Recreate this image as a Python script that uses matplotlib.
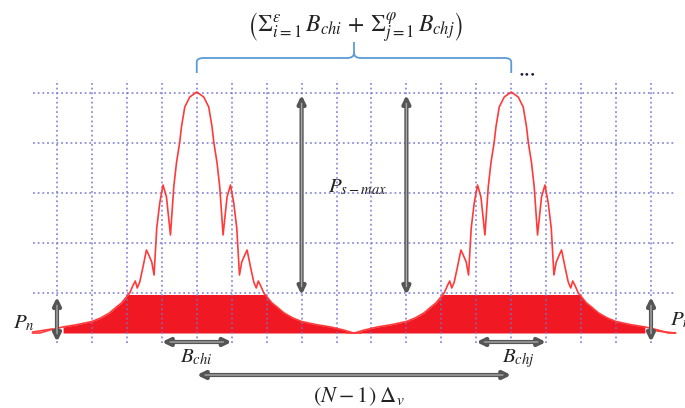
import numpy as np
import matplotlib
matplotlib.use("Agg")
import matplotlib.pyplot as plt
from matplotlib.patches import FancyArrowPatch, PathPatch
from matplotlib.path import Path

plt.rcParams['mathtext.fontset'] = 'stix'
plt.rcParams['font.family'] = ['DejaVu Serif']

# ---------------- data ----------------
# grid (frequency slots, power levels)
grid_x = np.arange(0, 18)            # vertical grid lines
grid_y = np.arange(1, 6)             # horizontal grid lines
noise_floor = 0.20
flat_top = 0.97                       # filled channel plateau level

# channel centres (in grid slots)
ch_centers = [4, 13]
ch_labels = [r'$B_{chi}$', r'$B_{chj}$']
ch_half_bw = 1.0

# one-sided spectrum shape: offset from centre -> level
spec_offsets = [0.000, 0.200, 0.343, 0.438, 0.487, 0.581, 0.658, 0.753, 0.867,
                0.965, 1.059, 1.145, 1.173, 1.222, 1.288, 1.374, 1.440, 1.545,
                1.631, 1.703, 1.760, 1.832, 1.918, 2.012, 2.155, 2.298, 2.500,
                2.750, 3.000, 3.400, 3.835, 4.200, 4.490, 4.700]
spec_levels = [5.02, 4.92, 4.72, 4.32, 4.02, 3.60, 3.12, 2.16, 2.92,
               3.16, 2.80, 2.30, 1.96, 1.36, 1.62, 1.76, 1.86, 1.50,
               1.22, 1.10, 1.24, 1.14, 1.00, 0.92, 0.80, 0.72, 0.60,
               0.50, 0.43, 0.37, 0.32, 0.26, 0.20, 0.20]

pn_arrow_x = [0, 17]
psmax_arrow_x = [7, 10]

# ---------------- figure ----------------
fig = plt.figure(figsize=(6.85, 4.08), dpi=100)
ax = fig.add_axes([0, 0, 1, 1])
ax.set_xlim(-1.631, 17.973)
ax.set_ylim(-1.30, 6.86)
ax.axis('off')

grid_color = '#7272d2'
dot_style = (0, (1, 1.6))
for gx in grid_x:
    ax.plot([gx, gx], [0.0, 5.26], color=grid_color, lw=1.3, ls=dot_style,
            zorder=2, alpha=0.8)
for gy in grid_y:
    ax.plot([-0.69, 17.69], [gy, gy], color=grid_color, lw=1.3, ls=dot_style,
            zorder=2, alpha=0.8)

off = np.array(spec_offsets)
lev = np.array(spec_levels)
full_off = np.concatenate([-off[::-1], off[1:]])
full_lev = np.concatenate([lev[::-1], lev[1:]])

for c in ch_centers:
    xs = c + full_off
    xf = np.linspace(xs[0], xs[-1], 2000)
    yf = np.interp(xf, xs, full_lev)
    top = np.minimum(yf, flat_top)
    mask = (xf > pn_arrow_x[0] + 0.17) & (xf < pn_arrow_x[1] - 0.17)
    ax.fill_between(xf, noise_floor, top, where=mask, color='#f01822',
                    lw=0, zorder=1)
    ax.plot(xs, full_lev, color='#ff3a3a', lw=1.2, zorder=3)

# ---------------- arrows ----------------
def dbl_arrow(p0, p1):
    a = FancyArrowPatch(p0, p1, arrowstyle='<|-|>,head_length=0.45,head_width=0.22',
                        mutation_scale=10, lw=3.0, color='#555555',
                        shrinkA=0, shrinkB=0, zorder=4)
    ax.add_patch(a)
    b = FancyArrowPatch(p0, p1, arrowstyle='-', lw=1.0, color='#a8a8a8',
                        shrinkA=6, shrinkB=6, zorder=5)
    ax.add_patch(b)

for x in pn_arrow_x:
    dbl_arrow((x, 0.92), (x, 0.02))
for x in psmax_arrow_x:
    dbl_arrow((x, 4.96), (x, 0.96))
for c in ch_centers:
    dbl_arrow((c - ch_half_bw, 0.02), (c + ch_half_bw, 0.02))
dbl_arrow((ch_centers[0], -0.64), (ch_centers[1], -0.64))

# ---------------- brace ----------------
mid = (ch_centers[0] + ch_centers[1]) / 2
L, R = ch_centers
yb, yh, yt = 5.40, 5.70, 6.02
verts = [(L, yb), (L, yh - 0.08), (L, yh), (L + 0.2, yh), (mid - 0.2, yh),
         (mid, yh), (mid, yh + 0.1), (mid, yt),
         (mid, yh + 0.1), (mid, yh), (mid + 0.2, yh), (R - 0.2, yh),
         (R, yh), (R, yh - 0.08), (R, yb)]
codes = [Path.MOVETO, Path.LINETO, Path.CURVE3, Path.CURVE3, Path.LINETO,
         Path.CURVE3, Path.CURVE3, Path.LINETO,
         Path.MOVETO, Path.CURVE3, Path.CURVE3, Path.LINETO,
         Path.CURVE3, Path.CURVE3, Path.LINETO]
ax.add_patch(PathPatch(Path(verts, codes), fill=False, ec='#5b9bd5', lw=1.3,
                       zorder=4))

# ---------------- text ----------------
tc = '#222222'
ax.text(8.53, 6.30,
        r'$\left(\Sigma_{i=1}^{\varepsilon}\,B_{chi}\,+\,\Sigma_{j=1}^{\varphi}\,B_{chj}\right)$',
        ha='center', va='center', fontsize=17, color=tc)
ax.text(13.2, 5.36, '•••', ha='left', va='center', fontsize=7, color='#1a1a40')
ax.text(7.76, 3.02, r'$P_{s-max}$', ha='left', va='baseline', fontsize=15, color=tc)
ax.text(-1.26, 0.30, r'$P_n$', ha='left', va='baseline', fontsize=15, color=tc)
ax.text(17.54, 0.36, r'$P_n$', ha='left', va='baseline', fontsize=15, color=tc)
ax.plot([-0.69, -0.14], [0.22, 0.28], color='#ff3a3a', lw=1.2, zorder=3)
ax.plot([17.17, 17.69], [0.24, 0.20], color='#ff3a3a', lw=1.2, zorder=3)
ax.text(3.52, -0.38, ch_labels[0], ha='left', va='baseline', fontsize=15, color=tc)
ax.text(12.74, -0.38, ch_labels[1], ha='left', va='baseline', fontsize=15, color=tc)
ax.text(7.34, -1.19, r'$(N-1)\;\mathit{\Delta}_{v}$', ha='left', va='baseline',
        fontsize=16, color=tc)

fig.savefig('out.png', dpi=100, facecolor='white')
